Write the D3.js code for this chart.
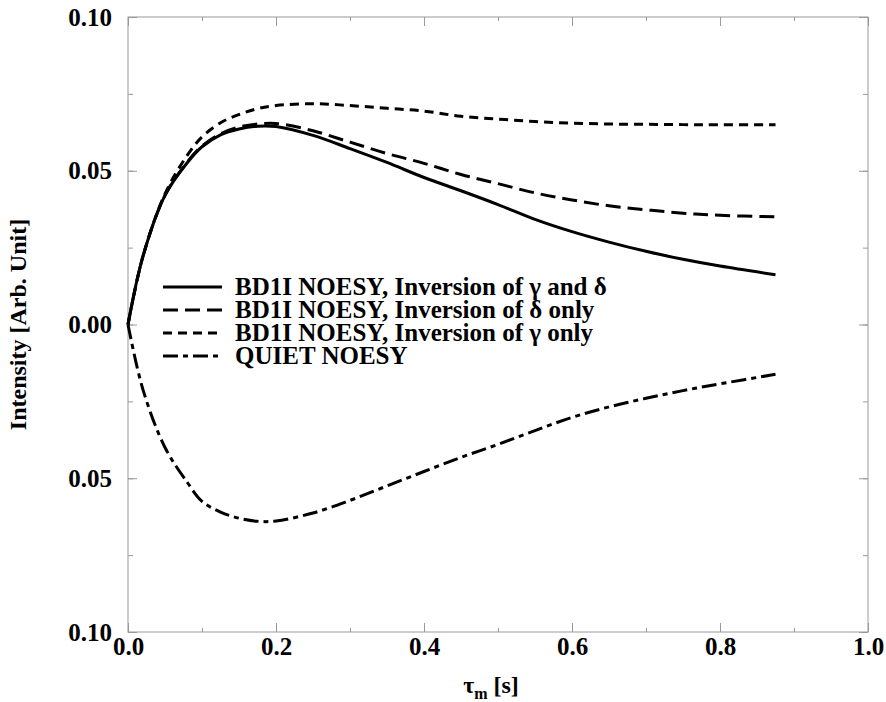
<!DOCTYPE html>
<html>
<head>
<meta charset="utf-8">
<script src="https://cdn.jsdelivr.net/npm/d3@7"></script>
<style>
  body { margin: 0; background: #fff; }
  svg text { font-family: "Liberation Serif", "Times New Roman", "DejaVu Serif", serif !important; font-weight: bold; }
</style>
</head>
<body>
<script>
// mixing time values (s)
var tau = [0, 0.02, 0.05, 0.08, 0.10, 0.125, 0.15, 0.175, 0.20, 0.25, 0.30, 0.35,
    0.40, 0.45, 0.50, 0.55, 0.60, 0.65, 0.70, 0.75, 0.80, 0.875];

var bothInv = [0, 0.022, 0.042, 0.0526, 0.0578, 0.0617, 0.0636, 0.0645, 0.0644, 0.0615, 0.0572, 0.0527,
    0.0478, 0.0435, 0.0390, 0.0342, 0.0302, 0.0268, 0.0238, 0.0212, 0.0190, 0.0162];
var deltaInv = [0, 0.022, 0.042, 0.0528, 0.0580, 0.0620, 0.0642, 0.0652, 0.0654, 0.0630, 0.0593, 0.0556,
    0.0524, 0.0488, 0.0458, 0.0428, 0.0405, 0.0386, 0.0373, 0.0362, 0.0355, 0.0350];
var gammaInv = [0, 0.022, 0.0425, 0.0550, 0.0610, 0.0656, 0.0683, 0.0702, 0.0712, 0.0718, 0.0712, 0.0703,
    0.0694, 0.0677, 0.0668, 0.0660, 0.0655, 0.0652, 0.0651, 0.0650, 0.0650, 0.0650];
var quiet = [0, -0.021, -0.040, -0.0513, -0.0575, -0.0610, -0.0630, -0.0640, -0.0639, -0.0613, -0.0572, -0.0525,
    -0.0478, -0.0432, -0.0390, -0.0345, -0.0302, -0.0268, -0.0240, -0.0215, -0.0193, -0.0162];

var seriesNames = [
    "BD1I NOESY, Inversion of \u03b3 and \u03b4",
    "BD1I NOESY, Inversion of \u03b4 only",
    "BD1I NOESY, Inversion of \u03b3 only",
    "QUIET NOESY"
];
var seriesValues = [bothInv, deltaInv, gammaInv, quiet];
var dashes = [null, "15,7", "9,6", "15,5,5,5"];

var xTicks = [0, 0.2, 0.4, 0.6, 0.8, 1.0];
var yTicks = [-0.10, -0.05, 0, 0.05, 0.10];

var W = 886, H = 702;
var margin = { top: 17, right: 18, bottom: 70, left: 128 };
var width = W - margin.left - margin.right,
    height = H - margin.top - margin.bottom;

var serif = "'Liberation Serif', 'Times New Roman', 'DejaVu Serif', serif";

var svg = d3.select("body").append("svg")
    .attr("width", W)
    .attr("height", H)
    .attr("font-family", serif);

svg.append("rect").attr("width", W).attr("height", H).attr("fill", "#fff");

var g = svg.append("g")
    .attr("transform", "translate(" + margin.left + "," + margin.top + ")");

var x = d3.scaleLinear().domain([0, 1]).range([0, width]);
var y = d3.scaleLinear().domain([-0.10, 0.10]).range([height, 0]);

var minorX = d3.range(0, 1.0001, 0.1);
var minorY = d3.range(-0.10, 0.1001, 0.025);

function styleAxis(sel) {
    sel.attr("font-family", serif);
    sel.select(".domain").remove();
    sel.selectAll("line").attr("stroke", "#999");
    sel.selectAll("text").attr("fill", "#000").style("font-size", "25px");
}

// minor ticks, all four sides
g.append("g").attr("transform", "translate(0," + height + ")")
    .call(d3.axisBottom(x).tickValues(minorX).tickSize(-4).tickFormat("")).call(styleAxis);
g.append("g")
    .call(d3.axisTop(x).tickValues(minorX).tickSize(-4).tickFormat("")).call(styleAxis);
g.append("g")
    .call(d3.axisLeft(y).tickValues(minorY).tickSize(-5).tickFormat("")).call(styleAxis);
g.append("g").attr("transform", "translate(" + width + ",0)")
    .call(d3.axisRight(y).tickValues(minorY).tickSize(-5).tickFormat("")).call(styleAxis);

// major ticks with labels
g.append("g").attr("transform", "translate(0," + height + ")")
    .call(d3.axisBottom(x).tickValues(xTicks).tickSize(-9).tickPadding(5).tickFormat(d3.format(".1f")))
    .call(styleAxis);
g.append("g")
    .call(d3.axisTop(x).tickValues(xTicks).tickSize(-9).tickFormat("")).call(styleAxis);
g.append("g")
    .call(d3.axisLeft(y).tickValues(yTicks).tickSize(-9).tickPadding(16)
        .tickFormat(function (d) { return Math.abs(d).toFixed(2); }))
    .call(styleAxis);
g.append("g").attr("transform", "translate(" + width + ",0)")
    .call(d3.axisRight(y).tickValues(yTicks).tickSize(-9).tickFormat("")).call(styleAxis);

// frame
g.append("rect")
    .attr("width", width)
    .attr("height", height)
    .attr("fill", "none")
    .attr("stroke", "#999")
    .attr("stroke-width", 1);

// curves
var line = d3.line()
    .x(function (d) { return x(d[0]); })
    .y(function (d) { return y(d[1]); })
    .curve(d3.curveCatmullRom.alpha(0.5));

seriesValues.forEach(function (vals, i) {
    g.append("path")
        .datum(tau.map(function (t, j) { return [t, vals[j]]; }))
        .attr("d", line)
        .attr("fill", "none")
        .attr("stroke", "#000")
        .attr("stroke-width", 3)
        .attr("stroke-dasharray", dashes[i]);
});

// legend
var legend = g.selectAll(".legend")
    .data(seriesNames)
    .enter().append("g")
    .attr("class", "legend")
    .attr("transform", function (d, i) { return "translate(35," + (270 + i * 23) + ")"; });

legend.append("line")
    .attr("x1", 0).attr("x2", 59)
    .attr("y1", 0).attr("y2", 0)
    .attr("stroke", "#000")
    .attr("stroke-width", 3)
    .attr("stroke-dasharray", function (d, i) { return dashes[i]; });

legend.append("text")
    .attr("x", 72)
    .attr("y", 8)
    .style("font-size", "25px")
    .text(function (d) { return d; });

// axis titles
var xt = svg.append("text")
    .attr("x", margin.left + width / 2 - 7)
    .attr("y", 693)
    .attr("text-anchor", "middle")
    .style("font-size", "24px");
xt.append("tspan").text("\u03c4");
xt.append("tspan").attr("dy", 6).style("font-size", "16px").text("m");
xt.append("tspan").attr("dy", -6).text(" [s]");

svg.append("text")
    .attr("transform", "translate(26," + (margin.top + height / 2) + ") rotate(-90)")
    .attr("text-anchor", "middle")
    .style("font-size", "24px")
    .text("Intensity [Arb. Unit]");
</script>
</body>
</html>
